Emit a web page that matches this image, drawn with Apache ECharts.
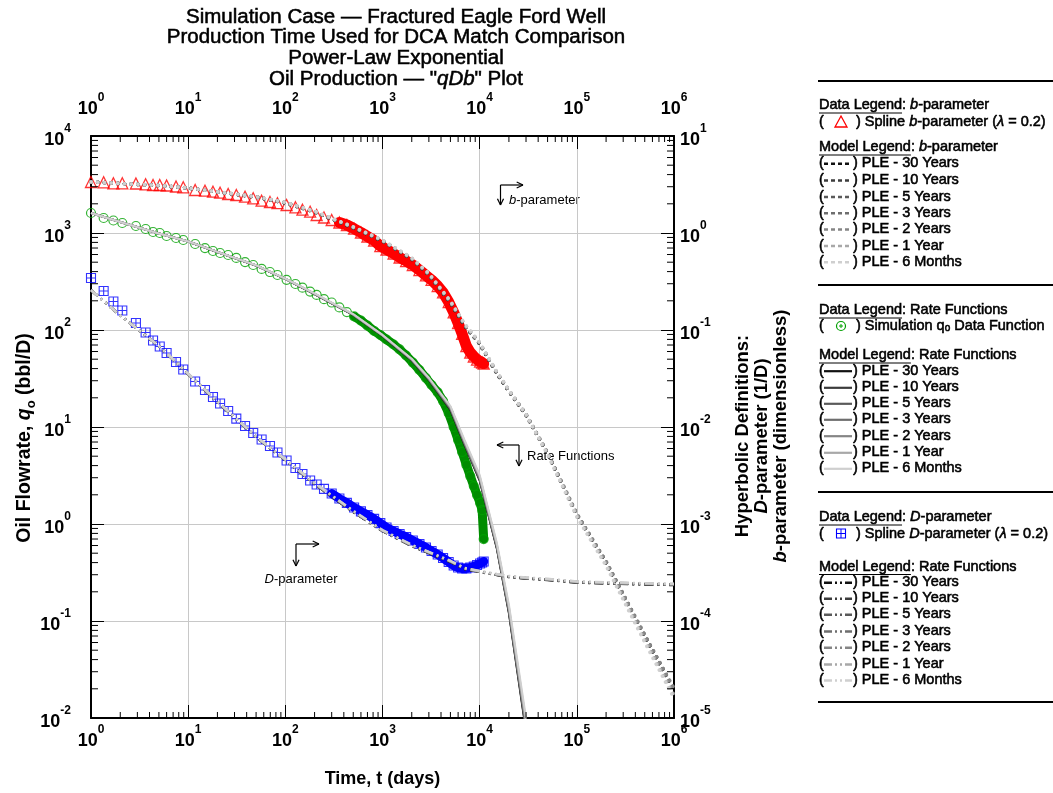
<!DOCTYPE html>
<html><head><meta charset="utf-8">
<script src="https://cdn.jsdelivr.net/npm/echarts@6/dist/echarts.min.js"></script>
<style>html,body{margin:0;padding:0;background:#fff}#c{width:1053px;height:793px}</style>
</head><body><div id="c"></div>
<script>
// ---------------- DATA ----------------
const T_DATA = [1,1.35,1.7,2.1,2.9,3.65,4.35,5.1,6,7.5,8.9,11.8,14.9,18,21.3,25.8,31.3,38.5,46.7,57,69.5,83,103,127,150,180,210,250,300,360,430,510,600,700,820,950,1100,1300,1500,1750,2050,2400,2800,3200,3700,4200,4800,5400,6000,6600,7300,8000,8700,9400,10100,10600,11000];
const B_SPLINE = [3.357,3.333,3.254,3.254,3.238,3.177,3.125,3.125,3.088,3.015,2.958,2.776,2.730,2.666,2.603,2.524,2.465,2.367,2.279,2.153,2.087,2.029,1.944,1.840,1.739,1.658,1.533,1.445,1.361,1.283,1.209,1.107,1.012,0.920,0.837,0.734,0.676,0.615,0.559,0.514,0.468,0.415,0.365,0.328,0.284,0.244,0.194,0.152,0.118,0.0910,0.0684,0.0586,0.0533,0.0496,0.0473,0.0462,0.0451];
const QO_DATA = [1607,1428,1345,1268,1181,1100,1024,1000,931,888,847,770,700,652,622,593,553,502,468,426,396,369,329,298,273,249,230,208,192,171,153,138,125,111,97.7,88.8,79.8,70.9,63.0,54.6,46.2,38.7,32.0,27.1,22.7,18.5,13.9,10.0,7.35,5.53,4.06,3.12,2.46,1.99,1.65,1.39,0.70];
const D_SPLINE = [0.3436,0.2524,0.1967,0.1589,0.1181,0.0942,0.0779,0.0676,0.0579,0.0468,0.0392,0.0294,0.0241,0.0204,0.0175,0.0146,0.0122,0.01024,0.00867,0.00743,0.00637,0.00546,0.00451,0.00378,0.00328,0.00281,0.00255,0.00230,0.00206,0.00183,0.00165,0.00148,0.00135,0.00124,0.00113,0.00102,0.000920,0.000847,0.000788,0.000735,0.000676,0.000622,0.000572,0.000527,0.000485,0.000446,0.000406,0.000373,0.000356,0.000348,0.000348,0.000356,0.000365,0.000378,0.000392,0.000401,0.000411];

const MODEL_NAMES = ['PLE - 30 Years','PLE - 10 Years','PLE - 5 Years','PLE - 3 Years','PLE - 2 Years','PLE - 1 Year','PLE - 6 Months'];
const MODEL_COLORS = ['#111111','#3c3c3c','#5a5a5a','#6e6e6e','#858585','#a8a8a8','#cfcfcf'];

const MODEL_T = [1,2,5,10,20,50,100,200,500,1000,2000,3000,5000,7000,10000,15000,20000,30000,50000,100000,200000,500000,1000000];
const B_PLE_30Y = [3.36,3.24,3.09,2.91,2.65,2.35,2.04,1.65,1.13,0.827,0.539,0.369,0.190,0.110,0.0718,0.0356,0.0233,0.0132,0.00527,0.00123,0.000396,0.0000685,0.0000190];
const B_PLE_10Y = [3.36,3.24,3.09,2.91,2.65,2.35,2.04,1.65,1.13,0.827,0.539,0.370,0.191,0.111,0.0720,0.0358,0.0234,0.0133,0.00530,0.00124,0.000400,0.0000695,0.0000194];
const B_PLE_5Y  = [3.36,3.24,3.09,2.91,2.65,2.35,2.05,1.66,1.14,0.830,0.541,0.371,0.192,0.112,0.0725,0.0360,0.0236,0.0134,0.00535,0.00126,0.000405,0.0000705,0.0000198];
const B_PLE_3Y  = [3.36,3.24,3.09,2.91,2.65,2.35,2.05,1.66,1.14,0.832,0.543,0.373,0.193,0.112,0.0728,0.0362,0.0237,0.0135,0.00540,0.00127,0.000410,0.0000715,0.0000200];
const B_PLE_2Y  = [3.36,3.24,3.09,2.91,2.65,2.36,2.05,1.66,1.14,0.834,0.545,0.375,0.194,0.113,0.0732,0.0365,0.0239,0.0136,0.00542,0.00128,0.000412,0.0000720,0.0000202];
const B_PLE_1Y  = [3.36,3.24,3.09,2.91,2.66,2.36,2.06,1.67,1.15,0.840,0.550,0.380,0.197,0.115,0.0740,0.0368,0.0240,0.0135,0.00530,0.00122,0.000385,0.0000640,0.0000172];
const B_PLE_6M  = [3.36,3.24,3.10,2.92,2.66,2.37,2.07,1.68,1.16,0.845,0.555,0.384,0.199,0.116,0.0745,0.0370,0.0240,0.0134,0.00520,0.00118,0.000370,0.0000600,0.0000160];

const MODEL_T_Q = [1,2,5,10,20,50,100,200,500,1000,2000,3000,5000,7000,10000,15000,20000,30000];
const Q_PLE_30Y = [1607,1298,988,817,637,462,336,235,143,87.0,48.5,30.5,15.0,6.5,2.80,0.56,0.120,0.0072];
const Q_PLE_10Y = [1607,1298,988,817,637,462,336,235,143,87.2,48.8,30.7,15.2,6.6,2.85,0.57,0.123,0.0075];
const Q_PLE_5Y  = [1607,1298,988,817,637,462,336,235,143,87.5,49.0,31.0,15.4,6.7,2.90,0.58,0.126,0.0078];
const Q_PLE_3Y  = [1607,1298,988,817,637,463,337,236,144,87.8,49.3,31.2,15.6,6.8,2.95,0.59,0.130,0.0082];
const Q_PLE_2Y  = [1607,1298,988,817,638,463,337,236,144,88.0,49.5,31.4,15.8,6.9,3.00,0.60,0.133,0.0085];
const Q_PLE_1Y  = [1607,1298,989,818,638,464,338,237,145,88.5,50.0,31.8,16.1,7.1,3.10,0.62,0.140,0.0092];
const Q_PLE_6M  = [1607,1299,990,819,639,465,339,238,146,89.0,50.5,32.2,16.4,7.3,3.20,0.64,0.147,0.0100];

const D_PLE_30Y = [0.258,0.141,0.0684,0.0352,0.0181,0.00788,0.00457,0.00258,0.00133,0.000847,0.000593,0.000502,0.000406,0.000343,0.000320,0.000298,0.000284,0.000274,0.000265,0.000249,0.000244,0.000238,0.000235];
const D_PLE_10Y = [0.258,0.141,0.0684,0.0352,0.0181,0.00788,0.00457,0.00258,0.00133,0.000848,0.000594,0.000503,0.000407,0.000344,0.000321,0.000299,0.000285,0.000275,0.000266,0.000250,0.000245,0.000239,0.000236];
const D_PLE_5Y  = [0.258,0.141,0.0684,0.0352,0.0181,0.00789,0.00458,0.00259,0.00134,0.000850,0.000596,0.000505,0.000409,0.000346,0.000322,0.000300,0.000286,0.000276,0.000267,0.000251,0.000246,0.000240,0.000237];
const D_PLE_3Y  = [0.258,0.141,0.0685,0.0353,0.0182,0.00790,0.00459,0.00260,0.00134,0.000852,0.000598,0.000507,0.000411,0.000347,0.000323,0.000301,0.000287,0.000277,0.000268,0.000252,0.000247,0.000241,0.000238];
const D_PLE_2Y  = [0.258,0.141,0.0685,0.0353,0.0182,0.00791,0.00460,0.00261,0.00135,0.000855,0.000600,0.000509,0.000413,0.000349,0.000325,0.000302,0.000288,0.000278,0.000269,0.000253,0.000248,0.000242,0.000239];
const D_PLE_1Y  = [0.258,0.141,0.0686,0.0354,0.0183,0.00793,0.00462,0.00263,0.00136,0.000860,0.000605,0.000512,0.000415,0.000350,0.000326,0.000303,0.000289,0.000279,0.000270,0.000254,0.000249,0.000243,0.000240];
const D_PLE_6M  = [0.258,0.141,0.0687,0.0355,0.0184,0.00796,0.00465,0.00265,0.00137,0.000865,0.000610,0.000515,0.000418,0.000352,0.000328,0.000305,0.000291,0.000281,0.000272,0.000256,0.000251,0.000245,0.000242];

const B_MODELS = [B_PLE_30Y,B_PLE_10Y,B_PLE_5Y,B_PLE_3Y,B_PLE_2Y,B_PLE_1Y,B_PLE_6M];
const Q_MODELS = [Q_PLE_30Y,Q_PLE_10Y,Q_PLE_5Y,Q_PLE_3Y,Q_PLE_2Y,Q_PLE_1Y,Q_PLE_6M];
const D_MODELS = [D_PLE_30Y,D_PLE_10Y,D_PLE_5Y,D_PLE_3Y,D_PLE_2Y,D_PLE_1Y,D_PLE_6M];

// dense (overlapping-marker) part of each data set starts here
const B_BAND_FROM = 360, Q_BAND_FROM = 510, D_BAND_FROM = 300;

// axis ranges
const X_MIN = 1, X_MAX = 1e6, YL_MIN = 1e-2, YL_MAX = 1e4, YR_MIN = 1e-5, YR_MAX = 1e1;

// ---------------- CHART ----------------
const FF = "'Liberation Sans', Arial, Helvetica, sans-serif";
const chart = echarts.init(document.getElementById('c'), null, {renderer: 'canvas'});

function pairs(ts, vs) { return ts.map((t, i) => [t, vs[i]]); }
function band(ts, vs, from) { return ts.map((t, i) => [t, vs[i]]).filter(p => p[0] >= from); }

function minorList(e0, e1) {
  const a = [];
  for (let e = e0; e < e1; e++) for (let m = 2; m <= 9; m++) a.push(m * Math.pow(10, e));
  return a;
}
const X_MINOR = minorList(0, 6), YL_MINOR = minorList(-2, 4), YR_MINOR = minorList(-5, 1);

const supRich = {
  a: {fontFamily: FF, fontSize: 18, fontWeight: 'bold', color: '#000', lineHeight: 26, verticalAlign: 'bottom'},
  s: {fontFamily: FF, fontSize: 12, fontWeight: 'bold', color: '#000', lineHeight: 14, verticalAlign: 'top'}
};
function powLabel(v) { return '{a|10}{s|' + Math.round(Math.log10(v)) + '}'; }

function logAxis(extra) {
  return Object.assign({
    type: 'log', logBase: 10, interval: 1,
    axisLine: {show: true, onZero: false, lineStyle: {color: '#000', width: 2}},
    axisTick: {show: true, inside: true, length: 13, lineStyle: {color: '#000', width: 1}},
    minorTick: {show: false},
    splitLine: {show: false},
    axisLabel: {formatter: powLabel, rich: supRich, showMinLabel: true, showMaxLabel: true}
  }, extra);
}

const series = [];
// data bands (dense overlapping markers)
series.push({type: 'line', xAxisIndex: 0, yAxisIndex: 1, data: band(T_DATA, B_SPLINE, B_BAND_FROM), symbol: 'none',
  lineStyle: {color: '#ff0000', width: 11, cap: 'round', join: 'round'}, z: 2, silent: true});
series.push({type: 'line', xAxisIndex: 0, yAxisIndex: 0, data: band(T_DATA, QO_DATA, Q_BAND_FROM), symbol: 'none',
  lineStyle: {color: '#008c00', width: 9, cap: 'round', join: 'round'}, z: 2, silent: true});
series.push({type: 'line', xAxisIndex: 0, yAxisIndex: 1, data: band(T_DATA, D_SPLINE, D_BAND_FROM), symbol: 'none',
  lineStyle: {color: '#0000ff', width: 9, cap: 'round', join: 'round'}, z: 2, silent: true});
// data markers
series.push({type: 'scatter', name: 'Spline b-parameter', xAxisIndex: 0, yAxisIndex: 1, data: pairs(T_DATA, B_SPLINE),
  symbol: 'triangle', symbolSize: 11, itemStyle: {color: 'rgba(255,255,255,0)', borderColor: '#ff0000', borderWidth: 1.3}, z: 3});
series.push({type: 'scatter', name: 'Simulation qo Data Function', xAxisIndex: 0, yAxisIndex: 0, data: pairs(T_DATA, QO_DATA),
  symbol: 'circle', symbolSize: 9, itemStyle: {color: 'rgba(255,255,255,0)', borderColor: '#00a000', borderWidth: 1.2}, z: 3});
series.push({type: 'scatter', name: 'Spline D-parameter', xAxisIndex: 0, yAxisIndex: 1, data: pairs(T_DATA, D_SPLINE),
  symbol: 'path://M0,0H10V10H0Z M5,0V10 M0,5H10', symbolSize: 9,
  itemStyle: {color: 'rgba(255,255,255,0)', borderColor: '#0000ff', borderWidth: 1.1}, z: 3});
// models
for (let k = 0; k < 7; k++) {
  series.push({type: 'line', name: 'q ' + MODEL_NAMES[k], xAxisIndex: 0, yAxisIndex: 0, data: pairs(MODEL_T_Q, Q_MODELS[k]),
    symbol: 'none', lineStyle: {color: MODEL_COLORS[k], width: 2}, z: 5, silent: true});
}
for (let k = 0; k < 7; k++) {
  series.push({type: 'line', name: 'D ' + MODEL_NAMES[k], xAxisIndex: 0, yAxisIndex: 1, data: pairs(MODEL_T, D_MODELS[k]),
    symbol: 'none', lineStyle: {color: MODEL_COLORS[k], width: 2.5, type: [9, 4, 2, 4, 2, 4]}, z: 5, silent: true});
}
for (let k = 0; k < 7; k++) {
  series.push({type: 'line', name: 'b ' + MODEL_NAMES[k], xAxisIndex: 0, yAxisIndex: 1, data: pairs(MODEL_T, B_MODELS[k]),
    symbol: 'none', lineStyle: {color: MODEL_COLORS[k], width: 3.6, type: [0.1, 6.6], cap: 'round'}, z: 5, silent: true});
}
// minor ticks drawn through the axis scales
function tickLine(x1, y1, x2, y2) { return {type: 'line', shape: {x1, y1, x2, y2}, style: {stroke: '#000', lineWidth: 1}}; }
series.push({type: 'custom', xAxisIndex: 0, yAxisIndex: 0, clip: false, silent: true, z: 10,
  data: X_MINOR.map(v => [v, 1]),
  renderItem: (p, api) => {
    const v = api.value(0), b = api.coord([v, YL_MIN]), t = api.coord([v, YL_MAX]);
    return {type: 'group', children: [tickLine(b[0], b[1], b[0], b[1] - 6), tickLine(t[0], t[1], t[0], t[1] + 6)]};
  }});
series.push({type: 'custom', xAxisIndex: 0, yAxisIndex: 0, clip: false, silent: true, z: 10,
  data: YL_MINOR.map(v => [10, v]),
  renderItem: (p, api) => {
    const v = api.value(1), l = api.coord([X_MIN, v]);
    return tickLine(l[0], l[1], l[0] + 7, l[1]);
  }});
series.push({type: 'custom', xAxisIndex: 0, yAxisIndex: 1, clip: false, silent: true, z: 10,
  data: YR_MINOR.map(v => [10, v]),
  renderItem: (p, api) => {
    const v = api.value(1), r = api.coord([X_MAX, v]);
    return tickLine(r[0], r[1], r[0] - 7, r[1]);
  }});

// ---------------- GRAPHICS (titles, legend, annotations) ----------------
const G = [];
function R(size, weight, style, extra) {
  return Object.assign({fontFamily: FF, fontSize: size, fontWeight: weight || 'normal', fontStyle: style || 'normal', fill: '#000'}, extra || {});
}
// slightly heavier regular text (thin outline), as in the reference rendering
const HEAVY = {stroke: '#000', lineWidth: 0.55};
function text(x, y, str, rich, opts) {
  G.push(Object.assign({type: 'text', x, y, silent: true,
    style: Object.assign({text: str, rich, align: 'left', verticalAlign: 'middle', fill: '#000', fontFamily: FF}, (opts && opts.style) || {})},
    (opts && opts.el) || {}));
}
function seg(x1, y1, x2, y2, stroke, w, dash) {
  G.push({type: 'line', silent: true, shape: {x1, y1, x2, y2}, style: {stroke: stroke || '#000', lineWidth: w || 1, lineDash: dash || null}});
}
function arrow(x1, y1, x2, y2) {
  seg(x1, y1, x2, y2, '#000', 1.2);
  const a = Math.atan2(y2 - y1, x2 - x1), L = 7, W = 0.45;
  seg(x2, y2, x2 - L * Math.cos(a - W), y2 - L * Math.sin(a - W), '#000', 1.2);
  seg(x2, y2, x2 - L * Math.cos(a + W), y2 - L * Math.sin(a + W), '#000', 1.2);
}

// title
const TL = 20.7;
text(396, 48, [
  '{t|Simulation Case — Fractured Eagle Ford Well}',
  '{t|Production Time Used for DCA Match Comparison}',
  '{t|Power-Law Exponential}',
  '{t|Oil Production — "}{ti|qDb}{t|" Plot}'].join('\n'),
  {t: R(20.5, 'normal', 'normal', Object.assign({lineHeight: TL}, HEAVY)), ti: R(20.5, 'normal', 'italic', Object.assign({lineHeight: TL}, HEAVY))},
  {style: {align: 'center'}});

// axis names
text(25, 438, '{a|Oil Flowrate, }{i|q}{s|o}{a| (bbl/D)}',
  {a: R(19.5, 'bold', 'normal', {lineHeight: 26}), i: R(19.5, 'bold', 'italic', {lineHeight: 26}), s: R(13, 'bold', 'normal', {lineHeight: 13, verticalAlign: 'bottom'})},
  {style: {align: 'center'}, el: {rotation: Math.PI / 2}});
text(762, 436, '{a|Hyperbolic Definitions:}\n{i|D}{a|-parameter (1/D)}\n{i|b}{a|-parameter (dimensionless)}',
  {a: R(18.5, 'bold', 'normal', {lineHeight: 19}), i: R(18.5, 'bold', 'italic', {lineHeight: 19})},
  {style: {align: 'center'}, el: {rotation: Math.PI / 2}});
text(382.5, 779, '{a|Time, t (days)}', {a: R(18, 'bold')}, {style: {align: 'center'}});

// annotations
arrow(500.5, 185, 523, 185); arrow(500.5, 185, 500.5, 205);
text(509, 200, '{i|b}{a|-parameter}', {a: R(13), i: R(13, 'normal', 'italic')});
arrow(519, 445, 497, 445); arrow(519, 445, 519, 466);
text(527, 456, '{a|Rate Functions}', {a: R(13)});
arrow(296, 544, 319, 544); arrow(296, 544, 296, 566);
text(301, 579, '{i|D}{a|-parameter}', {a: R(13), i: R(13, 'normal', 'italic')}, {style: {align: 'center'}});

// legend
const mctx = document.createElement('canvas').getContext('2d');
function measure(str, font) { mctx.font = font; return mctx.measureText(str).width; }
const LF = 14.5, LX = 819, LW = 'normal';
const LR = {n: R(LF, LW, 'normal', HEAVY), u: R(LF, LW, 'normal', HEAVY), i: R(LF, LW, 'italic', HEAVY),
  s: R(10, LW, 'normal', Object.assign({verticalAlign: 'bottom', lineHeight: 10}, HEAVY))};
function heading(y, word, restRich) {
  text(LX, y, '{u|' + word + '}{n|: }' + restRich, LR);
  const w = measure(word, LW + ' ' + LF + 'px ' + FF);
  seg(LX, y + 8, LX + w, y + 8, '#000', 1);
}
function dataRow(y, drawSym, restRich) {
  text(LX, y, '{n|(}', LR);
  drawSym(841, y);
  text(856, y, '{n|) }' + restRich, LR);
}
function modelRows(ys, dash, width) {
  ys.forEach((y, k) => {
    text(LX, y, '{n|(}', LR);
    seg(824, y + 0.5, 852, y + 0.5, MODEL_COLORS[k], width, dash);
    text(853, y, '{n|) ' + MODEL_NAMES[k] + '}', LR);
  });
}
[81, 285, 492, 702].forEach(y => seg(818, y, 1053, y, '#000', 2));

heading(105, 'Data Legend', '{i|b}{n|-parameter}');
dataRow(122, (x, y) => G.push({type: 'polygon', silent: true, shape: {points: [[x, y - 6], [x + 6, y + 5], [x - 6, y + 5]]},
  style: {fill: 'none', stroke: '#ff0000', lineWidth: 1.3}}), '{n|Spline }{i|b}{n|-parameter (}{i|λ}{n| = 0.2)}');
heading(147, 'Model Legend', '{i|b}{n|-parameter}');
modelRows([163.3, 180, 196.5, 212.7, 229, 245.5, 261.7], [4, 3], 2.5);

heading(310, 'Data Legend', '{n|Rate Functions}');
dataRow(326, (x, y) => {
  G.push({type: 'circle', silent: true, shape: {cx: x, cy: y, r: 4.5}, style: {fill: 'none', stroke: '#00a000', lineWidth: 1.2}});
  seg(x - 2, y, x + 2, y, '#00a000', 1); seg(x, y - 2, x, y + 2, '#00a000', 1);
}, '{n|Simulation q}{s|o}{n| Data Function}');
heading(355, 'Model Legend', '{n|Rate Functions}');
modelRows([370.7, 387.3, 403.3, 419.3, 435.7, 452.3, 468.3], null, 2.2);

heading(517, 'Data Legend', '{i|D}{n|-parameter}');
dataRow(533.5, (x, y) => {
  G.push({type: 'rect', silent: true, shape: {x: x - 4.5, y: y - 4.5, width: 9, height: 9}, style: {fill: 'none', stroke: '#0000ff', lineWidth: 1.1}});
  seg(x, y - 4.5, x, y + 4.5, '#0000ff', 1); seg(x - 4.5, y, x + 4.5, y, '#0000ff', 1);
}, '{n|Spline }{i|D}{n|-parameter (}{i|λ}{n| = 0.2)}');
heading(566.5, 'Model Legend', '{n|Rate Functions}');
modelRows([582.3, 598.3, 614.3, 631, 647.3, 664, 680], [8, 3, 2, 3, 2, 3], 2.5);

chart.setOption({
  backgroundColor: '#ffffff',
  animation: false,
  grid: {left: 91, right: 379, top: 136, bottom: 75, containLabel: false},
  xAxis: [
    logAxis({position: 'bottom', min: X_MIN, max: X_MAX, splitLine: {show: true, lineStyle: {color: '#c8c8c8', width: 1}},
      axisLabel: {formatter: powLabel, rich: supRich, margin: 6, showMinLabel: true, showMaxLabel: true}}),
    logAxis({position: 'top', min: X_MIN, max: X_MAX,
      axisLabel: {formatter: powLabel, rich: supRich, margin: 18, showMinLabel: true, showMaxLabel: true}})
  ],
  yAxis: [
    logAxis({position: 'left', min: YL_MIN, max: YL_MAX, splitLine: {show: true, lineStyle: {color: '#c8c8c8', width: 1}},
      axisLabel: {formatter: powLabel, rich: supRich, margin: 20, showMinLabel: true, showMaxLabel: true}}),
    logAxis({position: 'right', min: YR_MIN, max: YR_MAX,
      axisLabel: {formatter: powLabel, rich: supRich, margin: 6, showMinLabel: true, showMaxLabel: true}})
  ],
  series,
  graphic: G
});
</script>
</body></html>
